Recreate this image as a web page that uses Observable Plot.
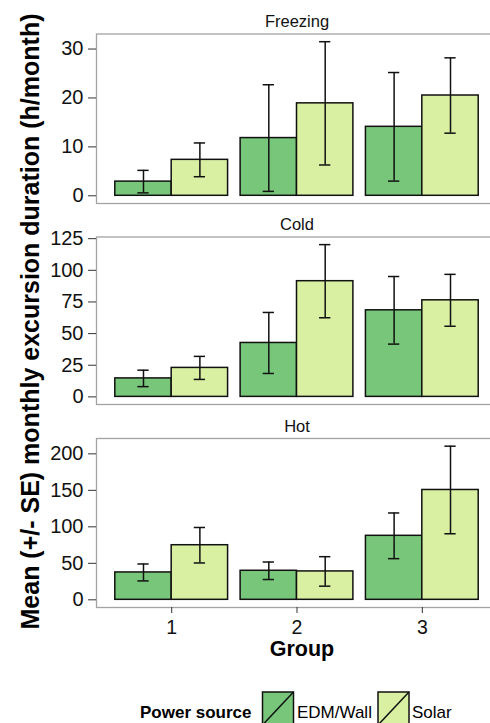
<!DOCTYPE html>
<html>
<head>
<meta charset="utf-8">
<script src="https://cdn.jsdelivr.net/npm/d3@7"></script>
<script src="https://cdn.jsdelivr.net/npm/@observablehq/plot@0.6"></script>
<style>
  html, body { margin: 0; padding: 0; background: #fff; overflow: hidden; }
  #chart { position: relative; width: 490px; height: 723px; overflow: hidden; background: #fff; }
  #chart svg { position: absolute; left: 0; top: 0; }
</style>
</head>
<body>
<div id="chart"></div>
<script>
// ---- data ----
const panels = ["Freezing", "Cold", "Hot"];
const groups = [1, 2, 3];
const sources = ["EDM/Wall", "Solar"];
const sourceColors = ["#78c679", "#d9f0a3"];

const freezingEDM = [2.9, 11.8, 14.1];
const freezingEDMse = [2.3, 10.9, 11.1];
const freezingSolar = [7.35, 18.9, 20.5];
const freezingSolarSe = [3.45, 12.6, 7.7];

const coldEDM = [14.6, 42.6, 68.4];
const coldEDMse = [6.5, 24.1, 26.7];
const coldSolar = [22.9, 91.4, 76.3];
const coldSolarSe = [9.1, 28.9, 20.5];

const hotEDM = [37.5, 39.8, 87.7];
const hotEDMse = [11.6, 12.0, 31.3];
const hotSolar = [74.8, 38.9, 150.5];
const hotSolarSe = [24.3, 20.2, 60.0];

const freezingTicks = [0, 10, 20, 30];
const coldTicks = [0, 25, 50, 75, 100, 125];
const hotTicks = [0, 50, 100, 150, 200];

const yTitle = "Mean (+/- SE) monthly excursion duration (h/month)";
const xTitle = "Group";
const legendTitle = "Power source";

// ---- build tables ----
function table(edm, edmSe, solar, solarSe) {
  const rows = [];
  groups.forEach((g, i) => {
    rows.push({group: g, source: sources[0], k: 0, mean: edm[i], se: edmSe[i]});
    rows.push({group: g, source: sources[1], k: 1, mean: solar[i], se: solarSe[i]});
  });
  return rows;
}
const panelData = [
  table(freezingEDM, freezingEDMse, freezingSolar, freezingSolarSe),
  table(coldEDM, coldEDMse, coldSolar, coldSolarSe),
  table(hotEDM, hotEDMse, hotSolar, hotSolarSe)
];
const panelTicks = [freezingTicks, coldTicks, hotTicks];

// ---- layout ----
const W = 497, H = 723;
const left = 96;
const tops = [33.5, 236.5, 438];
const bottoms = [203, 404, 607];
const font = "'Liberation Sans', Arial, Helvetica, sans-serif";
const dodge = 0.9, barW = dodge / 2, capHalf = 0.045;

const chart = document.getElementById("chart");

panels.forEach((name, i) => {
  const rows = panelData[i];
  const ymax = d3.max(rows, d => d.mean + d.se);
  const x1 = d => d.group - dodge / 2 + d.k * barW;
  const xc = d => d.group - dodge / 2 + d.k * barW + barW / 2;
  const marks = [
    Plot.frame({stroke: "#a3a3a3", strokeWidth: 1.3}),
    Plot.rect(rows, {x1: x1, x2: d => x1(d) + barW, y1: 0, y2: "mean", fill: "source", stroke: "#111", strokeWidth: 1.5}),
    Plot.ruleX(rows, {x: xc, y1: d => d.mean - d.se, y2: d => d.mean + d.se, stroke: "#111", strokeWidth: 1.5}),
    Plot.ruleY(rows, {y: d => d.mean + d.se, x1: d => xc(d) - capHalf, x2: d => xc(d) + capHalf, stroke: "#111", strokeWidth: 1.5}),
    Plot.ruleY(rows, {y: d => d.mean - d.se, x1: d => xc(d) - capHalf, x2: d => xc(d) + capHalf, stroke: "#111", strokeWidth: 1.5}),
    Plot.axisY({ticks: panelTicks[i], tickSize: 8, tickPadding: 5, fontSize: 20, label: null, stroke: "#333", fill: "#111"}),
    Plot.text([name], {frameAnchor: "top", lineAnchor: "middle", dy: -11.8, fontSize: 16.5, fill: "#111"})
  ];
  if (i === 2) {
    marks.push(Plot.axisX({ticks: groups, tickSize: 6, tickPadding: 6.5, fontSize: 19.5, label: null, tickFormat: d => String(d), stroke: "#333", fill: "#111"}));
  }
  const svg = Plot.plot({
    width: W, height: H,
    marginLeft: left, marginRight: 0,
    marginTop: tops[i], marginBottom: H - bottoms[i],
    style: {background: "transparent", fontFamily: font, color: "#111"},
    x: {domain: [0.4, 3.6], axis: i === 2 ? undefined : null},
    y: {domain: [-0.05 * ymax, 1.05 * ymax]},
    color: {domain: sources, range: sourceColors},
    marks
  });
  svg.style.maxWidth = "none";
  svg.style.width = W + "px";
  svg.style.height = H + "px";
  svg.style.position = "absolute";
  svg.style.left = "0";
  svg.style.top = "0";
  svg.style.background = "transparent";
  chart.appendChild(svg);
});

// ---- titles and legend overlay ----
const ov = d3.select(chart).append("svg")
  .attr("width", 490).attr("height", 723)
  .attr("viewBox", "0 0 490 723")
  .style("font-family", font);

ov.append("text")
  .attr("transform", "translate(38.5,321.5) rotate(-90)")
  .attr("text-anchor", "middle")
  .attr("font-size", 25).attr("font-weight", "bold").attr("fill", "#000")
  .text(yTitle);

ov.append("text")
  .attr("x", 302).attr("y", 656)
  .attr("text-anchor", "middle")
  .attr("font-size", 21.5).attr("font-weight", "bold").attr("fill", "#000")
  .text(xTitle);

const lg = ov.append("g");
lg.append("text").attr("x", 140).attr("y", 718)
  .attr("font-size", 17).attr("font-weight", "bold").attr("fill", "#000")
  .text(legendTitle);
const keyX = [262.5, 378];
const labX = [297, 412];
sources.forEach((s, i) => {
  lg.append("rect").attr("x", keyX[i]).attr("y", 692).attr("width", 31).attr("height", 33)
    .attr("fill", sourceColors[i]).attr("stroke", "#111").attr("stroke-width", 1.5);
  lg.append("line").attr("x1", keyX[i]).attr("y1", 725).attr("x2", keyX[i] + 31).attr("y2", 692)
    .attr("stroke", "#111").attr("stroke-width", 1.5);
  lg.append("text").attr("x", labX[i]).attr("y", 718)
    .attr("font-size", 17).attr("fill", "#000").text(s);
});
</script>
</body>
</html>
